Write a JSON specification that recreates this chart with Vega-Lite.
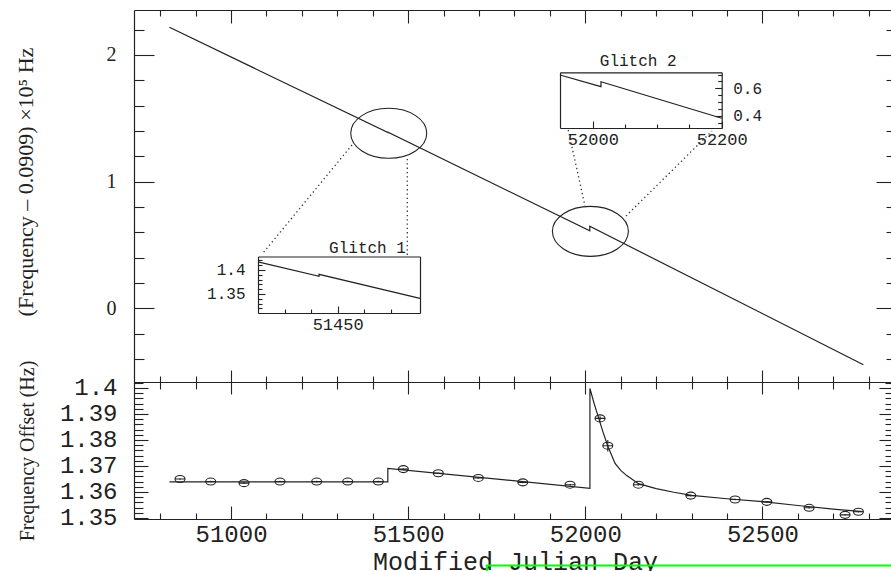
{
  "$schema": "https://vega.github.io/schema/vega-lite/v6.json",
  "padding": {"left": 13, "top": 9, "right": 0, "bottom": 0},
  "background": "white",
  "bounds": "flush",
  "spacing": 0,
  "config": {
    "view": {"stroke": null},
    "axis": {
      "grid": false,
      "domainColor": "#222",
      "domainWidth": 1.2,
      "tickColor": "#222",
      "tickWidth": 1.1,
      "labelColor": "#222",
      "titleColor": "#222",
      "labelFlush": false,
      "labelOverlap": false,
      "labelBound": false,
      "labelFont": "Liberation Mono",
      "titleFont": "Liberation Mono",
      "titleFontWeight": "normal",
      "format": "~r"
    }
  },
  "datasets": {
    "main": [
      {"seq": 1, "mjd": 50826, "f": 2.2185},
      {"seq": 2, "mjd": 51443, "f": 1.387},
      {"seq": 3, "mjd": 51443, "f": 1.391},
      {"seq": 4, "mjd": 52012.6, "f": 0.612},
      {"seq": 5, "mjd": 52012.6, "f": 0.648},
      {"seq": 6, "mjd": 52785, "f": -0.4445}
    ],
    "circles": [
      {"glitch": "Glitch 1", "mjd": 51445.1, "f": 1.382},
      {"glitch": "Glitch 2", "mjd": 52014.3, "f": 0.608}
    ],
    "conn1": [
      {"mjd": 51341.4, "f": 1.2895, "mjd2": 51090.2, "f2": 0.437},
      {"mjd": 51497.5, "f": 1.179, "mjd2": 51497.5, "f2": 0.4213}
    ],
    "conn2": [
      {"mjd": 51951.7, "f": 1.408, "mjd2": 51999.1, "f2": 0.808},
      {"mjd": 52114.8, "f": 0.729, "mjd2": 52357.6, "f2": 1.4}
    ],
    "ins1": [
      {"seq": 1, "mjd": 51420, "f": 1.417},
      {"seq": 2, "mjd": 51443, "f": 1.387},
      {"seq": 3, "mjd": 51443, "f": 1.391},
      {"seq": 4, "mjd": 51481, "f": 1.341}
    ],
    "ins2": [
      {"seq": 1, "mjd": 51949, "f": 0.697},
      {"seq": 2, "mjd": 52012.6, "f": 0.612},
      {"seq": 3, "mjd": 52012.6, "f": 0.648},
      {"seq": 4, "mjd": 52200, "f": 0.381}
    ],
    "model": [
      {"seq": 1, "mjd": 50826, "off": 1.3639},
      {"seq": 2, "mjd": 51442.5, "off": 1.3639},
      {"seq": 3, "mjd": 51442.5, "off": 1.3691},
      {"seq": 4, "mjd": 52013, "off": 1.3614},
      {"seq": 5, "mjd": 52013, "off": 1.3998},
      {"seq": 6, "mjd": 52025, "off": 1.394},
      {"seq": 7, "mjd": 52037, "off": 1.3887},
      {"seq": 8, "mjd": 52050, "off": 1.383},
      {"seq": 9, "mjd": 52063, "off": 1.3778},
      {"seq": 10, "mjd": 52084, "off": 1.371},
      {"seq": 11, "mjd": 52100, "off": 1.3683},
      {"seq": 12, "mjd": 52117, "off": 1.3663},
      {"seq": 13, "mjd": 52150, "off": 1.3632},
      {"seq": 14, "mjd": 52200, "off": 1.3613},
      {"seq": 15, "mjd": 52250, "off": 1.3599},
      {"seq": 16, "mjd": 52300, "off": 1.3587},
      {"seq": 17, "mjd": 52400, "off": 1.3574},
      {"seq": 18, "mjd": 52500, "off": 1.3563},
      {"seq": 19, "mjd": 52600, "off": 1.3548},
      {"seq": 20, "mjd": 52700, "off": 1.3534},
      {"seq": 21, "mjd": 52783, "off": 1.3524}
    ],
    "obs": [
      {"mjd": 50855.9, "off": 1.365, "lo": 1.3647, "hi": 1.3653},
      {"mjd": 50942.5, "off": 1.364, "lo": 1.3637, "hi": 1.3643},
      {"mjd": 51036.6, "off": 1.3634, "lo": 1.3631, "hi": 1.3637},
      {"mjd": 51138.2, "off": 1.364, "lo": 1.3637, "hi": 1.3643},
      {"mjd": 51241.8, "off": 1.364, "lo": 1.3637, "hi": 1.3643},
      {"mjd": 51329.3, "off": 1.364, "lo": 1.3637, "hi": 1.3643},
      {"mjd": 51415.7, "off": 1.364, "lo": 1.3637, "hi": 1.3643},
      {"mjd": 51486.3, "off": 1.3688, "lo": 1.3685, "hi": 1.3691},
      {"mjd": 51585.1, "off": 1.3672, "lo": 1.3669, "hi": 1.3675},
      {"mjd": 51698, "off": 1.3654, "lo": 1.3651, "hi": 1.3657},
      {"mjd": 51823.4, "off": 1.3637, "lo": 1.3634, "hi": 1.364},
      {"mjd": 51956.9, "off": 1.3628, "lo": 1.3625, "hi": 1.3631},
      {"mjd": 52041.6, "off": 1.3883, "lo": 1.3875, "hi": 1.3891},
      {"mjd": 52063.4, "off": 1.3778, "lo": 1.3756, "hi": 1.38},
      {"mjd": 52149.8, "off": 1.3628, "lo": 1.3625, "hi": 1.3631},
      {"mjd": 52297.7, "off": 1.3586, "lo": 1.3583, "hi": 1.3589},
      {"mjd": 52422.8, "off": 1.3571, "lo": 1.3568, "hi": 1.3574},
      {"mjd": 52512.3, "off": 1.3562, "lo": 1.3559, "hi": 1.3565},
      {"mjd": 52631.7, "off": 1.3539, "lo": 1.3536, "hi": 1.3542},
      {"mjd": 52733.3, "off": 1.3512, "lo": 1.3509, "hi": 1.3515},
      {"mjd": 52770.9, "off": 1.3524, "lo": 1.3521, "hi": 1.3527}
    ],
    "green": [
      {"mjd": 51722, "mjd2": 52900, "off": 1.3317, "off2": 1.32}
    ]
  },
  "vconcat": [
    {
      "width": 762,
      "height": 372,
      "resolve": {"scale": {"x": "independent", "y": "independent"}, "axis": {"x": "independent", "y": "independent"}},
      "layer": [
        {
          "data": {"name": "main"},
          "mark": {"type": "line", "color": "#222", "strokeWidth": 1.2},
          "encoding": {
            "x": {"field": "mjd", "type": "quantitative", "scale": {"domain": [50726, 52877], "nice": false, "zero": false},
              "axis": {"orient": "bottom", "values": [51000, 51500, 52000, 52500], "labels": false, "tickSize": -12, "title": null}},
            "y": {"field": "f", "type": "quantitative", "scale": {"domain": [-0.581, 2.355], "nice": false, "zero": false},
              "axis": {"orient": "left", "values": [0, 1, 2], "tickSize": -20, "labelPadding": 38, "labelFont": "Liberation Serif", "labelFontSize": 20,
                "title": "(Frequency – 0.0909) ×10⁵ Hz", "titleFont": "Liberation Serif", "titleFontSize": 22, "titleX": -109, "titleY": 171.5, "titleAngle": -90, "titleAlign": "center", "titleBaseline": "middle"}},
            "order": {"field": "seq", "type": "quantitative"}
          }
        },
        {
          "data": {"name": "circles"},
          "mark": {"type": "point", "shape": "M-1,0A1,0.658 0 1,1 1,0A1,0.658 0 1,1 -1,0Z", "size": 5776, "filled": false, "stroke": "#222", "strokeWidth": 1.1, "opacity": 1},
          "encoding": {
            "x": {"field": "mjd", "type": "quantitative", "scale": {"domain": [50726, 52877], "nice": false, "zero": false},
              "axis": {"orient": "bottom", "values": [50800, 50900, 51100, 51200, 51300, 51400, 51600, 51700, 51800, 51900, 52100, 52200, 52300, 52400, 52600, 52700, 52800], "labels": false, "domain": false, "tickSize": -6, "title": null}},
            "y": {"field": "f", "type": "quantitative", "scale": {"domain": [-0.581, 2.355], "nice": false, "zero": false},
              "axis": {"orient": "left", "values": [-0.4, -0.2, 0.2, 0.4, 0.6, 0.8, 1.2, 1.4, 1.6, 1.8, 2.2], "labels": false, "domain": false, "tickSize": -10, "title": null}}
          }
        },
        {
          "data": {"name": "conn1"},
          "mark": {"type": "rule", "color": "#333", "strokeWidth": 1.3, "strokeDash": [1.3, 3]},
          "encoding": {
            "x": {"field": "mjd", "type": "quantitative", "scale": {"domain": [50726, 52877], "nice": false, "zero": false},
              "axis": {"orient": "top", "values": [51000, 51500, 52000, 52500], "labels": false, "tickSize": -13, "title": null}},
            "x2": {"field": "mjd2"},
            "y": {"field": "f", "type": "quantitative", "scale": {"domain": [-0.581, 2.355], "nice": false, "zero": false},
              "axis": {"orient": "right", "values": [0, 1, 2], "labels": false, "tickSize": -20, "title": null}},
            "y2": {"field": "f2"}
          }
        },
        {
          "data": {"name": "conn2"},
          "mark": {"type": "rule", "color": "#333", "strokeWidth": 1.3, "strokeDash": [1.3, 3]},
          "encoding": {
            "x": {"field": "mjd", "type": "quantitative", "scale": {"domain": [50726, 52877], "nice": false, "zero": false},
              "axis": {"orient": "top", "values": [50800, 50900, 51100, 51200, 51300, 51400, 51600, 51700, 51800, 51900, 52100, 52200, 52300, 52400, 52600, 52700, 52800], "labels": false, "domain": false, "tickSize": -6, "title": null}},
            "x2": {"field": "mjd2"},
            "y": {"field": "f", "type": "quantitative", "scale": {"domain": [-0.581, 2.355], "nice": false, "zero": false},
              "axis": {"orient": "right", "values": [-0.4, -0.2, 0.2, 0.4, 0.6, 0.8, 1.2, 1.4, 1.6, 1.8, 2.2], "labels": false, "domain": false, "tickSize": -10, "title": null}},
            "y2": {"field": "f2"}
          }
        },
        {
          "data": {"name": "ins1"},
          "mark": {"type": "line", "color": "#222", "strokeWidth": 1.2},
          "encoding": {
            "x": {"field": "mjd", "type": "quantitative", "scale": {"domain": [51420, 51481], "range": [124, 286], "nice": false, "zero": false},
              "axis": {"orient": "bottom", "offset": -69, "values": [51450], "tickSize": -7, "labelPadding": 23, "labelBaseline": "alphabetic", "labelFontSize": 17, "title": null}},
            "y": {"field": "f", "type": "quantitative", "scale": {"domain": [1.3104, 1.4281], "range": [303, 246.5], "nice": false, "zero": false},
              "axis": {"orient": "left", "offset": -124, "values": [1.35, 1.4], "tickSize": -7, "labelPadding": 20, "labelFontSize": 16, "title": null}},
            "order": {"field": "seq", "type": "quantitative"}
          }
        },
        {
          "data": {"name": "ins1"},
          "mark": {"type": "line", "strokeOpacity": 0},
          "encoding": {
            "x": {"field": "mjd", "type": "quantitative", "scale": {"domain": [51420, 51481], "range": [124, 286], "nice": false, "zero": false},
              "axis": {"orient": "bottom", "offset": -69, "values": [51430, 51440, 51460, 51470], "labels": false, "domain": false, "tickSize": -4, "title": null}},
            "y": {"field": "f", "type": "quantitative", "scale": {"domain": [1.3104, 1.4281], "range": [303, 246.5], "nice": false, "zero": false},
              "axis": {"orient": "left", "offset": -124, "values": [1.32, 1.33, 1.34, 1.36, 1.37, 1.38, 1.39, 1.41, 1.42], "labels": false, "domain": false, "tickSize": -4, "title": null}},
            "order": {"field": "seq", "type": "quantitative"}
          }
        },
        {
          "data": {"name": "ins1"},
          "mark": {"type": "line", "strokeOpacity": 0},
          "encoding": {
            "x": {"field": "mjd", "type": "quantitative", "scale": {"domain": [51420, 51481], "range": [124, 286], "nice": false, "zero": false},
              "axis": {"orient": "top", "offset": -246.5, "ticks": false, "labels": false, "title": "Glitch 1", "titleFontSize": 16, "titleX": 233, "titleY": -4, "titleAlign": "center", "titleBaseline": "alphabetic"}},
            "y": {"field": "f", "type": "quantitative", "scale": {"domain": [1.3104, 1.4281], "range": [303, 246.5], "nice": false, "zero": false},
              "axis": {"orient": "right", "offset": -476, "ticks": false, "labels": false, "title": null}},
            "order": {"field": "seq", "type": "quantitative"}
          }
        },
        {
          "data": {"name": "ins2"},
          "mark": {"type": "line", "color": "#222", "strokeWidth": 1.2},
          "encoding": {
            "x": {"field": "mjd", "type": "quantitative", "scale": {"domain": [51949, 52200], "range": [426, 587.7], "nice": false, "zero": false},
              "axis": {"orient": "bottom", "offset": -254, "values": [52000, 52200], "tickSize": -7, "labelPadding": 23, "labelBaseline": "alphabetic", "labelFontSize": 17, "title": null}},
            "y": {"field": "f", "type": "quantitative", "scale": {"domain": [0.31, 0.717], "range": [118, 62.3], "nice": false, "zero": false},
              "axis": {"orient": "right", "offset": -174.3, "values": [0.4, 0.6], "tickSize": -7, "labelPadding": 18, "labelFontSize": 16, "title": null}},
            "order": {"field": "seq", "type": "quantitative"}
          }
        },
        {
          "data": {"name": "ins2"},
          "mark": {"type": "line", "strokeOpacity": 0},
          "encoding": {
            "x": {"field": "mjd", "type": "quantitative", "scale": {"domain": [51949, 52200], "range": [426, 587.7], "nice": false, "zero": false},
              "axis": {"orient": "bottom", "offset": -254, "values": [52050, 52100, 52150], "labels": false, "domain": false, "tickSize": -4, "title": null}},
            "y": {"field": "f", "type": "quantitative", "scale": {"domain": [0.31, 0.717], "range": [118, 62.3], "nice": false, "zero": false},
              "axis": {"orient": "right", "offset": -174.3, "values": [0.35, 0.45, 0.5, 0.55, 0.65, 0.7], "labels": false, "domain": false, "tickSize": -4, "title": null}},
            "order": {"field": "seq", "type": "quantitative"}
          }
        },
        {
          "data": {"name": "ins2"},
          "mark": {"type": "line", "strokeOpacity": 0},
          "encoding": {
            "x": {"field": "mjd", "type": "quantitative", "scale": {"domain": [51949, 52200], "range": [426, 587.7], "nice": false, "zero": false},
              "axis": {"orient": "top", "offset": -62.3, "ticks": false, "labels": false, "title": "Glitch 2", "titleFontSize": 16, "titleX": 503.7, "titleY": -7, "titleAlign": "center", "titleBaseline": "alphabetic"}},
            "y": {"field": "f", "type": "quantitative", "scale": {"domain": [0.31, 0.717], "range": [118, 62.3], "nice": false, "zero": false},
              "axis": {"orient": "left", "offset": -426, "ticks": false, "labels": false, "title": null}},
            "order": {"field": "seq", "type": "quantitative"}
          }
        }
      ]
    },
    {
      "width": 762,
      "height": 137,
      "resolve": {"scale": {"x": "independent", "y": "independent"}, "axis": {"x": "independent", "y": "independent"}},
      "layer": [
        {
          "data": {"name": "model"},
          "mark": {"type": "line", "color": "#222", "strokeWidth": 1.2},
          "encoding": {
            "x": {"field": "mjd", "type": "quantitative", "scale": {"domain": [50726, 52877], "nice": false, "zero": false},
              "axis": {"orient": "bottom", "values": [51000, 51500, 52000, 52500], "tickSize": -13, "labelPadding": 35, "labelBaseline": "alphabetic", "labelFontSize": 24,
                "title": "Modified Julian Day", "titleFontSize": 25, "titleY": 50, "titleBaseline": "alphabetic"}},
            "y": {"field": "off", "type": "quantitative", "scale": {"domain": [1.3496, 1.4023], "nice": false, "zero": false},
              "axis": {"orient": "left", "values": [1.35, 1.36, 1.37, 1.38, 1.39, 1.4], "tickSize": -14, "labelPadding": 31, "labelFontSize": 24,
                "title": "Frequency Offset (Hz)", "titleFont": "Liberation Serif", "titleFontSize": 20, "titleX": -106.5, "titleY": 68.5, "titleAngle": -90, "titleAlign": "center", "titleBaseline": "middle"}},
            "order": {"field": "seq", "type": "quantitative"}
          }
        },
        {
          "data": {"name": "obs"},
          "mark": {"type": "point", "shape": "M-1,0A1,0.7 0 1,1 1,0A1,0.7 0 1,1 -1,0ZM-1,0L1,0", "size": 100, "filled": false, "stroke": "#222", "strokeWidth": 1.1, "opacity": 1},
          "encoding": {
            "x": {"field": "mjd", "type": "quantitative", "scale": {"domain": [50726, 52877], "nice": false, "zero": false},
              "axis": {"orient": "bottom", "values": [50800, 50900, 51100, 51200, 51300, 51400, 51600, 51700, 51800, 51900, 52100, 52200, 52300, 52400, 52600, 52700, 52800], "labels": false, "domain": false, "tickSize": -6, "title": null}},
            "y": {"field": "off", "type": "quantitative", "scale": {"domain": [1.3496, 1.4023], "nice": false, "zero": false},
              "axis": {"orient": "left", "values": [1.352, 1.354, 1.356, 1.358, 1.362, 1.364, 1.366, 1.368, 1.372, 1.374, 1.376, 1.378, 1.382, 1.384, 1.386, 1.388, 1.392, 1.394, 1.396, 1.398, 1.402], "labels": false, "domain": false, "tickSize": -9, "title": null}}
          }
        },
        {
          "data": {"name": "obs"},
          "mark": {"type": "rule", "color": "#222", "strokeWidth": 1.1},
          "encoding": {
            "x": {"field": "mjd", "type": "quantitative", "scale": {"domain": [50726, 52877], "nice": false, "zero": false},
              "axis": {"orient": "top", "values": [51000, 51500, 52000, 52500], "labels": false, "tickSize": -12, "title": null}},
            "y": {"field": "lo", "type": "quantitative", "scale": {"domain": [1.3496, 1.4023], "nice": false, "zero": false},
              "axis": {"orient": "right", "values": [1.35, 1.36, 1.37, 1.38, 1.39, 1.4], "labels": false, "tickSize": -17, "title": null}},
            "y2": {"field": "hi"}
          }
        },
        {
          "data": {"name": "green"},
          "mark": {"type": "rect", "fill": null, "fillOpacity": 0, "stroke": "#00ff00", "strokeWidth": 2, "clip": false},
          "encoding": {
            "x": {"field": "mjd", "type": "quantitative", "scale": {"domain": [50726, 52877], "nice": false, "zero": false},
              "axis": {"orient": "top", "values": [50800, 50900, 51100, 51200, 51300, 51400, 51600, 51700, 51800, 51900, 52100, 52200, 52300, 52400, 52600, 52700, 52800], "labels": false, "domain": false, "tickSize": -7, "title": null}},
            "x2": {"field": "mjd2"},
            "y": {"field": "off", "type": "quantitative", "scale": {"domain": [1.3496, 1.4023], "nice": false, "zero": false},
              "axis": {"orient": "right", "values": [1.352, 1.354, 1.356, 1.358, 1.362, 1.364, 1.366, 1.368, 1.372, 1.374, 1.376, 1.378, 1.382, 1.384, 1.386, 1.388, 1.392, 1.394, 1.396, 1.398, 1.402], "labels": false, "domain": false, "tickSize": -11, "title": null}},
            "y2": {"field": "off2"}
          }
        }
      ]
    }
  ]
}
